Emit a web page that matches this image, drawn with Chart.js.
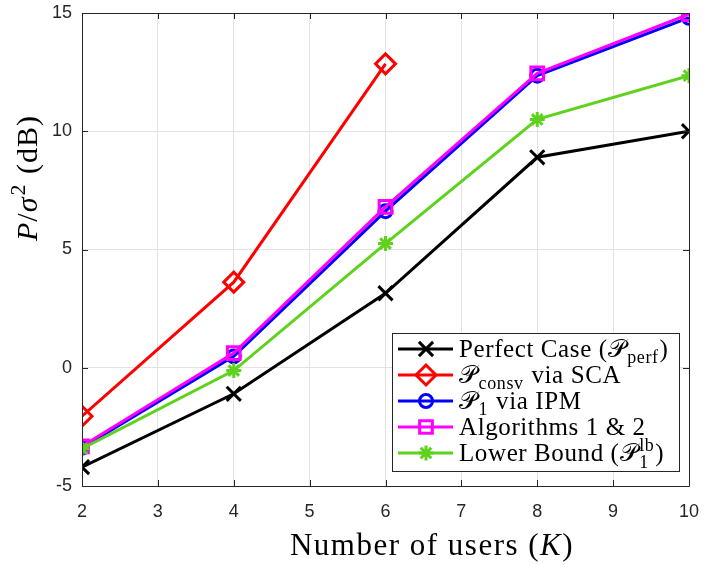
<!DOCTYPE html>
<html>
<head>
<meta charset="utf-8">
<script src="https://cdn.jsdelivr.net/npm/chart.js@4.4.0/dist/chart.umd.min.js"></script>
<style>
  html, body { margin: 0; padding: 0; background: #fff; }
  #wrap { width: 704px; height: 565px; }
</style>
</head>
<body>
<div id="wrap"><canvas id="powerChart" width="704" height="565"></canvas></div>
<script>
/* number of users K and required power P/sigma^2 (dB) per scheme */
const users = [2, 4, 6, 8, 10];
const perfectCase = [-4.2, -1.1, 3.15, 8.9, 10.0];
const consvSCA = [-2.05, 3.62, 12.85];
const p1IPM = [-3.38, 0.48, 6.62, 12.35, 14.8];
const algorithms12 = [-3.32, 0.62, 6.8, 12.45, 14.95];
const lowerBound = [-3.42, -0.12, 5.25, 10.5, 12.35];

const xTicks = [2, 3, 4, 5, 6, 7, 8, 9, 10];
const yTicks = [-5, 0, 5, 10, 15];

const SERIF = '"Liberation Serif", "DejaVu Serif", serif';
const SANS = '"Liberation Sans", Arial, sans-serif';
const SCRIPT_P = '\u{1D4AB}';

// marker radius per point style
const markerSize = { crossRot: 10, rectRot: 10, circle: 6.5, rect: 9, star: 7.5 };

function toPoints(values) {
    return values.map((v, i) => ({ x: users[i], y: v }));
}

// legend rows as rich text runs: [text, kind]
const legendRows = [
    { color: '#000000', style: 'crossRot', text: [['Perfect Case (', 'n'], [SCRIPT_P, 'n'], ['perf', 'sub'], [')', 'n']] },
    { color: '#ff0000', style: 'rectRot', text: [[SCRIPT_P, 'n'], ['consv', 'sub'], [' via SCA', 'n']] },
    { color: '#0000ff', style: 'circle', text: [[SCRIPT_P, 'n'], ['1', 'sub'], [' via IPM', 'n']] },
    { color: '#ff00ff', style: 'rect', text: [['Algorithms 1 & 2', 'n']] },
    { color: '#5ed21d', style: 'star', text: [['Lower Bound (', 'n'], [SCRIPT_P, 'n'], ['1|lb', 'subsup'], [')', 'n']] },
];

// draws runs of normal / italic / sub / sup text, returns the end x
function drawRich(ctx, runs, x, y, size, dry) {
    ctx.textBaseline = 'alphabetic';
    ctx.textAlign = 'left';
    const small = Math.round(size * 0.72);
    runs.forEach(([t, kind]) => {
        if (kind === 'n' || kind === 'i') {
            ctx.font = (kind === 'i' ? 'italic ' : '') + size + 'px ' + SERIF;
            if (!dry) ctx.fillText(t, x, y);
            x += ctx.measureText(t).width;
        } else if (kind === 'sub' || kind === 'sup') {
            ctx.font = small + 'px ' + SERIF;
            if (!dry) ctx.fillText(t, x + 1, y + (kind === 'sub' ? size * 0.25 : -size * 0.4));
            x += ctx.measureText(t).width + 2;
        } else if (kind === 'subsup') {
            const [lo, hi] = t.split('|');
            ctx.font = small + 'px ' + SERIF;
            if (!dry) {
                ctx.fillText(lo, x + 1, y + size * 0.28);
                ctx.fillText(hi, x + 1, y - size * 0.4);
            }
            x += Math.max(ctx.measureText(lo).width, ctx.measureText(hi).width) + 2;
        }
    });
    return x;
}

// axis box, inward ticks, axis titles and the legend
const figureDecor = {
    id: 'figureDecor',
    afterDraw(chart) {
        const ctx = chart.ctx;
        const a = chart.chartArea;
        const xs = chart.scales.x, ys = chart.scales.y;
        ctx.save();

        ctx.strokeStyle = '#262626';
        ctx.lineWidth = 1;
        ctx.beginPath();
        ctx.rect(Math.round(a.left) + 0.5, Math.round(a.top) + 0.5, Math.round(a.right - a.left), Math.round(a.bottom - a.top));
        ctx.stroke();

        ctx.beginPath();
        xTicks.forEach(v => {
            const px = Math.round(xs.getPixelForValue(v)) + 0.5;
            ctx.moveTo(px, a.bottom); ctx.lineTo(px, a.bottom - 6);
            ctx.moveTo(px, a.top); ctx.lineTo(px, a.top + 6);
        });
        yTicks.forEach(v => {
            const py = Math.round(ys.getPixelForValue(v)) + 0.5;
            ctx.moveTo(a.left, py); ctx.lineTo(a.left + 6, py);
            ctx.moveTo(a.right, py); ctx.lineTo(a.right - 6, py);
        });
        ctx.stroke();

        ctx.fillStyle = '#000';

        // x title
        ctx.letterSpacing = '1.5px';
        const xRuns = [['Number of users (', 'n'], ['K', 'i'], [')', 'n']];
        const xw = drawRich(ctx, xRuns, 0, 0, 31, true);
        drawRich(ctx, xRuns, 432 - xw / 2, 555, 31);

        // y title, rotated
        ctx.save();
        ctx.translate(37, 178);
        ctx.rotate(-Math.PI / 2);
        ctx.letterSpacing = '1px';
        const yRuns = [['P', 'i'], ['/', 'n'], ['\u03c3', 'i'], ['2', 'sup'], [' (dB)', 'n']];
        const yw = drawRich(ctx, yRuns, 0, 0, 30, true);
        drawRich(ctx, yRuns, -yw / 2, 0, 30);
        ctx.restore();

        // legend
        const lx = 392, ly = 333, lw = 287, lh = 138;
        ctx.fillStyle = '#fff';
        ctx.fillRect(lx, ly, lw, lh);
        ctx.strokeStyle = '#262626';
        ctx.lineWidth = 1;
        ctx.strokeRect(lx + 0.5, ly + 0.5, lw, lh);
        ctx.letterSpacing = '0.6px';
        legendRows.forEach((row, i) => {
            const cy = 349 + i * 26;
            ctx.strokeStyle = row.color;
            ctx.lineWidth = 3;
            ctx.beginPath();
            ctx.moveTo(398, cy); ctx.lineTo(453, cy);
            ctx.stroke();
            ctx.fillStyle = row.style === 'star' ? row.color : 'rgba(0,0,0,0)';
            ctx.lineWidth = 3;
            Chart.helpers.drawPoint(ctx, { pointStyle: row.style, radius: markerSize[row.style], rotation: 0, borderWidth: 3 }, 426, cy);
            ctx.fillStyle = '#000';
            drawRich(ctx, row.text, 459, cy + 8, 25);
        });
        ctx.restore();
    }
};

function series(label, values, color, style, order) {
    return {
        label: label,
        data: toPoints(values),
        borderColor: color,
        backgroundColor: color,
        borderWidth: 3,
        pointStyle: style,
        pointRadius: markerSize[style],
        pointBorderWidth: 3,
        pointBorderColor: color,
        pointBackgroundColor: style === 'star' ? color : 'rgba(0,0,0,0)',
        tension: 0,
        order: order,
    };
}

new Chart(document.getElementById('powerChart'), {
    type: 'line',
    data: {
        datasets: [
            series('Perfect Case', perfectCase, '#000000', 'crossRot', 5),
            series('Pconsv via SCA', consvSCA, '#ff0000', 'rectRot', 4),
            series('P1 via IPM', p1IPM, '#0000ff', 'circle', 3),
            series('Algorithms 1 & 2', algorithms12, '#ff00ff', 'rect', 2),
            series('Lower Bound', lowerBound, '#5ed21d', 'star', 1),
        ],
    },
    options: {
        responsive: false,
        animation: false,
        layout: {
            padding: { top: 12, right: 15, left: 0, bottom: 0 },
        },
        plugins: {
            legend: { display: false },
            tooltip: { enabled: false },
        },
        scales: {
            x: {
                type: 'linear',
                min: 2,
                max: 10,
                afterBuildTicks: (scale) => { scale.ticks = xTicks.map(v => ({ value: v })); },
                afterFit: (scale) => {
                    scale.height = 79;
                    scale.paddingLeft = 0;
                    scale.paddingRight = 0;
                },
                grid: { color: '#e3e3e3', drawTicks: false },
                border: { display: false },
                ticks: {
                    padding: 15,
                    color: '#262626',
                    font: { family: SANS, size: 18 },
                },
            },
            y: {
                min: -5,
                max: 15,
                afterBuildTicks: (scale) => { scale.ticks = yTicks.map(v => ({ value: v })); },
                afterFit: (scale) => {
                    scale.width = 82;
                    scale.paddingTop = 0;
                    scale.paddingBottom = 0;
                },
                grid: { color: '#e3e3e3', drawTicks: false },
                border: { display: false },
                ticks: {
                    padding: 10,
                    color: '#262626',
                    font: { family: SANS, size: 18 },
                },
            },
        },
    },
    plugins: [figureDecor],
});
</script>
</body>
</html>
